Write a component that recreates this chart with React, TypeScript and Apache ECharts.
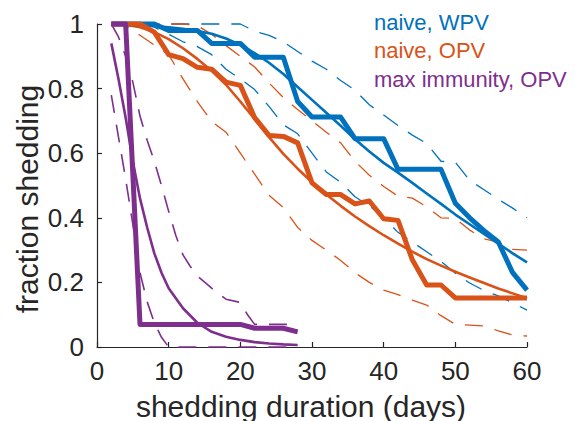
import React, { useEffect, useRef } from "react";
import * as echarts from "echarts";

// ---------- data ----------
const seriesNames = ["naive, WPV", "naive, OPV", "max immunity, OPV"];
const xTickLabels = ["0", "10", "20", "30", "40", "50", "60"];
const yTickLabels = ["0", "0.2", "0.4", "0.6", "0.8", "1"];

const dayGrid = [2, 4, 6, 8, 10, 12, 14, 16, 18, 20, 22, 24, 26, 28, 30, 32, 34, 36, 38, 40, 42, 44, 46, 48, 50, 52, 54, 56, 58, 60];

// naive, WPV
const wpvObserved = [1, 1, 1, 1, 0.98, 0.98, 0.98, 0.94, 0.94, 0.94, 0.897, 0.897, 0.897, 0.76, 0.712, 0.712, 0.712, 0.645, 0.645, 0.645, 0.55, 0.55, 0.55, 0.55, 0.445, 0.4, 0.36, 0.325, 0.23, 0.176];
const wpvFit = [1, 0.999, 0.997, 0.994, 0.99, 0.985, 0.978, 0.97, 0.955, 0.935, 0.91, 0.88, 0.845, 0.805, 0.765, 0.725, 0.685, 0.643, 0.605, 0.57, 0.54, 0.508, 0.475, 0.443, 0.41, 0.38, 0.35, 0.32, 0.29, 0.262];
const wpvUpper = [1, 1, 1, 1, 1, 1, 1, 1, 1, 1, 0.978, 0.965, 0.945, 0.915, 0.885, 0.86, 0.825, 0.795, 0.75, 0.718, 0.686, 0.656, 0.63, 0.575, 0.572, 0.516, 0.487, 0.457, 0.43, 0.4];
const wpvLower = [1, 1, 0.998, 0.99, 0.968, 0.945, 0.93, 0.905, 0.86, 0.83, 0.797, 0.745, 0.688, 0.66, 0.6, 0.542, 0.51, 0.465, 0.437, 0.4, 0.355, 0.325, 0.295, 0.265, 0.228, 0.198, 0.175, 0.158, 0.137, 0.114];

// naive, OPV
const opvObserved = [1, 1, 1, 0.975, 0.905, 0.893, 0.866, 0.86, 0.82, 0.81, 0.71, 0.655, 0.652, 0.632, 0.508, 0.472, 0.472, 0.443, 0.452, 0.397, 0.392, 0.27, 0.192, 0.192, 0.152, 0.152, 0.152, 0.152, 0.152, 0.152];
const opvFit = [1, 0.998, 0.99, 0.975, 0.953, 0.925, 0.892, 0.855, 0.812, 0.76, 0.705, 0.65, 0.598, 0.552, 0.51, 0.472, 0.437, 0.404, 0.374, 0.346, 0.32, 0.295, 0.272, 0.252, 0.233, 0.215, 0.198, 0.181, 0.166, 0.151];
const opvUpper = [1, 1, 1, 1, 1, 1, 0.995, 0.968, 0.933, 0.9, 0.867, 0.818, 0.772, 0.735, 0.7, 0.665, 0.632, 0.575, 0.532, 0.497, 0.467, 0.461, 0.434, 0.4, 0.398, 0.362, 0.335, 0.325, 0.302, 0.3];
const opvLower = [1, 0.995, 0.965, 0.935, 0.905, 0.83, 0.76, 0.698, 0.665, 0.6, 0.535, 0.47, 0.432, 0.37, 0.33, 0.3, 0.268, 0.23, 0.2, 0.176, 0.162, 0.145, 0.13, 0.097, 0.07, 0.068, 0.065, 0.05, 0.037, 0.034];

// max immunity, OPV
const maxDays = [2, 4, 6, 8, 10, 12, 14, 16, 18, 20, 22, 24, 26, 28];
const maxObserved = [1, 1, 0.07, 0.07, 0.07, 0.07, 0.07, 0.07, 0.07, 0.07, 0.058, 0.058, 0.058, 0.047];
const maxFitDays = [2, 3, 4, 5, 6, 7, 8, 9, 10, 12, 14, 16, 18, 20, 22, 24, 26, 28];
const maxFit = [0.94, 0.83, 0.71, 0.575, 0.46, 0.37, 0.29, 0.23, 0.182, 0.12, 0.075, 0.047, 0.032, 0.022, 0.015, 0.011, 0.008, 0.006];
const maxUpperDays = [2, 3, 4, 5, 6, 7, 8, 9, 10, 11, 12, 13, 14, 16, 18, 20, 21, 22, 24, 26, 28];
const maxUpper = [1, 0.96, 0.9, 0.82, 0.715, 0.64, 0.575, 0.5, 0.42, 0.345, 0.285, 0.25, 0.22, 0.182, 0.148, 0.138, 0.1, 0.07, 0.07, 0.07, 0.07];
const maxLowerDays = [2, 3, 4, 5, 6, 7, 8, 9, 10, 12, 14, 16, 18, 20, 22, 24, 26, 28];
const maxLower = [0.78, 0.65, 0.52, 0.38, 0.23, 0.14, 0.075, 0.03, 0, 0, 0, 0, 0, 0, 0, 0, 0, 0];

const colors = ["#0072BD", "#D95319", "#7E2F8E"];

function pairs(xs: number[], ys: number[]) {
  return xs.map((x, i) => [x, ys[i]]);
}

const FONT = "'Liberation Sans', Arial, Helvetica, sans-serif";
const AXIS_COLOR = "#262626";

export default function App() {
  const ref = useRef<HTMLDivElement>(null);
  useEffect(() => {
    if (!ref.current) return;
    const chart = echarts.init(ref.current, undefined, { renderer: "svg" });
    const dash = [18, 12];
    const mk = (name: string, data: number[][], color: string, width: number, type: any, z: number) => ({
      name,
      type: "line",
      data,
      symbol: "none",
      clip: false,
      silent: true,
      z,
      lineStyle: { color, width, type, cap: "butt", join: "round" },
    });
    const series = [
      mk("wpvU", pairs(dayGrid, wpvUpper), colors[0], 1.3, dash, 2),
      mk("wpvL", pairs(dayGrid, wpvLower), colors[0], 1.3, dash, 2),
      mk("opvU", pairs(dayGrid, opvUpper), colors[1], 1.3, dash, 2),
      mk("opvL", pairs(dayGrid, opvLower), colors[1], 1.3, dash, 2),
      mk("maxU", pairs(maxUpperDays, maxUpper), colors[2], 1.6, dash, 2),
      mk("maxL", pairs(maxLowerDays, maxLower), colors[2], 1.6, dash, 2),
      mk("wpvF", pairs(dayGrid, wpvFit), colors[0], 2.6, "solid", 3),
      mk("opvF", pairs(dayGrid, opvFit), colors[1], 2.6, "solid", 3),
      mk("maxF", pairs(maxFitDays, maxFit), colors[2], 2.6, "solid", 3),
      mk("wpvO", pairs(dayGrid, wpvObserved), colors[0], 5, "solid", 4),
      mk("opvO", pairs(dayGrid, opvObserved), colors[1], 5, "solid", 4),
      mk("maxO", pairs(maxDays, maxObserved), colors[2], 5, "solid", 4),
    ];
    const legendTexts = seriesNames.map((n, i) => ({
      type: "text",
      x: 374,
      y: 22 + i * 28.5,
      z: 10,
      style: {
        text: n,
        fill: colors[i],
        fontSize: 22,
        fontFamily: FONT,
        align: "left",
        verticalAlign: "middle",
        textAlign: "left",
        textVerticalAlign: "middle",
      },
    }));
    chart.setOption({
      animation: false,
      backgroundColor: "#ffffff",
      grid: { left: 97, right: 53, top: 24, bottom: 74, containLabel: false },
      xAxis: {
        type: "value",
        min: 0,
        max: 60,
        interval: 10,
        axisLine: { show: true, onZero: false, lineStyle: { color: AXIS_COLOR, width: 1.2 } },
        axisTick: { show: true, inside: true, length: 5, lineStyle: { color: AXIS_COLOR, width: 1.2 } },
        splitLine: { show: false },
        axisLabel: {
          fontSize: 26,
          color: AXIS_COLOR,
          fontFamily: FONT,
          margin: 11,
          formatter: (v: number) => xTickLabels[Math.round(v / 10)] ?? String(v),
        },
      },
      yAxis: {
        type: "value",
        min: 0,
        max: 1,
        interval: 0.2,
        axisLine: { show: true, onZero: false, lineStyle: { color: AXIS_COLOR, width: 1.2 } },
        axisTick: { show: true, inside: true, length: 5, lineStyle: { color: AXIS_COLOR, width: 1.2 } },
        splitLine: { show: false },
        axisLabel: {
          fontSize: 26,
          color: AXIS_COLOR,
          fontFamily: FONT,
          margin: 13,
          formatter: (v: number) => yTickLabels[Math.round(v * 5)] ?? String(v),
        },
      },
      graphic: [
        ...legendTexts,
        {
          type: "text",
          x: 301,
          y: 406,
          style: {
            text: "shedding duration (days)",
            fill: AXIS_COLOR,
            fontSize: 30,
            fontFamily: FONT,
            align: "center",
            verticalAlign: "middle",
            textAlign: "center",
            textVerticalAlign: "middle",
          },
        },
        {
          type: "text",
          x: 27,
          y: 199,
          rotation: Math.PI / 2,
          style: {
            text: "fraction shedding",
            fill: AXIS_COLOR,
            fontSize: 30,
            fontFamily: FONT,
            align: "center",
            verticalAlign: "middle",
            textAlign: "center",
            textVerticalAlign: "middle",
          },
        },
      ],
      series,
    });
    return () => chart.dispose();
  }, []);
  return (
    <div
      ref={ref}
      style={{ position: "fixed", left: 0, top: 0, width: 580, height: 421, background: "#fff" }}
    />
  );
}
